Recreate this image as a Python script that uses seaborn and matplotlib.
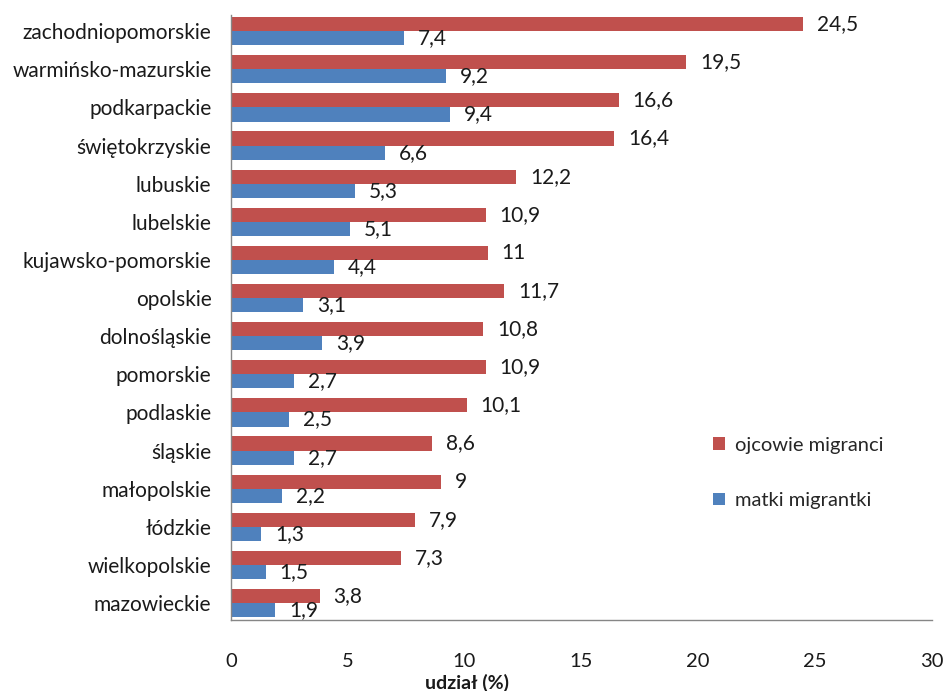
import matplotlib
matplotlib.use("Agg")
import matplotlib.pyplot as plt
import seaborn as sns
import pandas as pd

categories = ["zachodniopomorskie", "warmińsko-mazurskie", "podkarpackie", "świętokrzyskie",
              "lubuskie", "lubelskie", "kujawsko-pomorskie", "opolskie", "dolnośląskie",
              "pomorskie", "podlaskie", "śląskie", "małopolskie", "łódzkie",
              "wielkopolskie", "mazowieckie"]
ojcowie = [24.5, 19.5, 16.6, 16.4, 12.2, 10.9, 11, 11.7, 10.8, 10.9, 10.1, 8.6, 9, 7.9, 7.3, 3.8]
matki = [7.4, 9.2, 9.4, 6.6, 5.3, 5.1, 4.4, 3.1, 3.9, 2.7, 2.5, 2.7, 2.2, 1.3, 1.5, 1.9]
series = ["ojcowie migranci", "matki migrantki"]
x_ticks = [0, 5, 10, 15, 20, 25, 30]

df = pd.DataFrame({
    "woj": categories * 2,
    "val": ojcowie + matki,
    "seria": [series[0]] * len(categories) + [series[1]] * len(categories),
})

sns.set_theme(style="white")
plt.rcParams["font.family"] = ["Lato", "DejaVu Sans"]

fig = plt.figure(figsize=(9.46, 6.91), dpi=100)
ax = fig.add_axes([0.244, 0.103, 0.741, 0.875])

palette = {series[0]: "#C0504D", series[1]: "#4F81BD"}
sns.barplot(data=df, x="val", y="woj", hue="seria", orient="h", palette=palette,
            width=0.74, ax=ax, saturation=1, legend=True, errorbar=None,
            linewidth=0, edgecolor="none")

def fmt(v):
    s = f"{v:g}"
    return s.replace(".", ",")

for cont in ax.containers:
    labels = [fmt(b.get_width()) for b in cont]
    ax.bar_label(cont, labels=labels, padding=10, fontsize=15, color="#1a1a1a")

ax.set_xlim(0, 30)
ax.set_ylim(15.44, -0.42)
ax.set_xticks(x_ticks)
ax.set_xticklabels([str(t) for t in x_ticks], fontsize=14.5, color="#1a1a1a")
ax.tick_params(axis="x", length=0, pad=24)
ax.tick_params(axis="y", length=0, pad=14, labelsize=15, labelcolor="#1a1a1a")
ax.set_ylabel("")
ax.set_xlabel("udział (%)", fontsize=14, fontweight="bold", color="#1a1a1a")
ax.xaxis.label.set_va("center")
ax.xaxis.set_label_coords((467 - 231) / 701, -0.104)

for side in ["top", "right"]:
    ax.spines[side].set_visible(False)
for side in ["left", "bottom"]:
    ax.spines[side].set_visible(True)
    ax.spines[side].set_color("#868686")
    ax.spines[side].set_linewidth(1)

leg = ax.legend(loc="center left", bbox_to_anchor=(0.662, 0.243), frameon=False,
                fontsize=14.5, handlelength=0.6, handleheight=0.6, handletextpad=0.5,
                labelspacing=1.9)

fig.savefig("out.png", dpi=100)
